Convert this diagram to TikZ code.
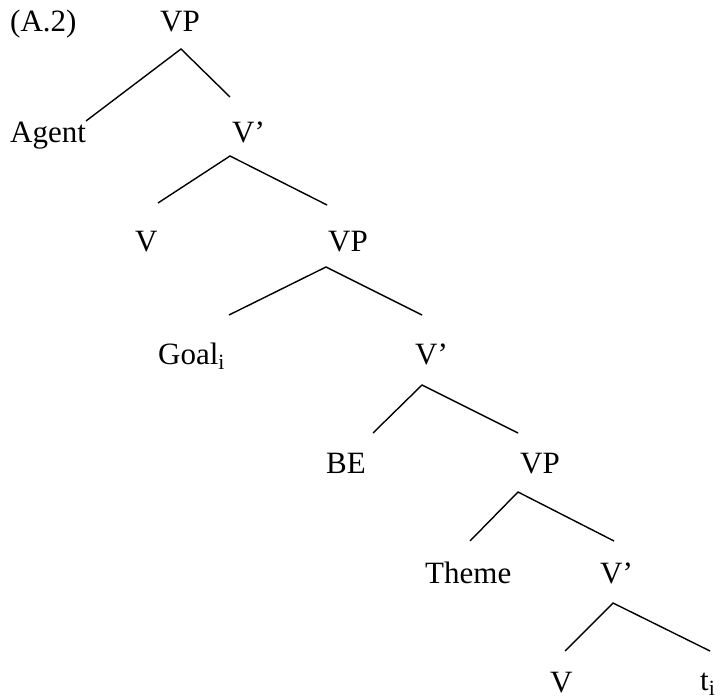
\documentclass[tikz,border=0pt]{standalone}
\usepackage{fontspec}
\setmainfont{Liberation Serif}
\begin{document}
\begin{tikzpicture}[x=1pt,y=-1pt,
  lbl/.style={anchor=base west,inner sep=0pt,font=\fontsize{31}{36}\selectfont},
  edge/.style={line width=1.4pt}]
\useasboundingbox (0,0) rectangle (725,700);
\node[lbl] (a2) at (10,32) {(A.2)};
\node[lbl] (vp1) at (160,32) {VP};
\node[lbl] (agent) at (10,143) {Agent};
\node[lbl] (v1) at (232,143) {V’};
\node[lbl] (va) at (135,252) {V};
\node[lbl] (vp2) at (328,252) {VP};
\node[lbl] (goal) at (158,364) {Goal\textsubscript{i}};
\node[lbl] (v2) at (415,364) {V’};
\node[lbl] (be) at (326,473) {BE};
\node[lbl] (vp3) at (520,473) {VP};
\node[lbl] (theme) at (425,583) {Theme};
\node[lbl] (v3) at (600,583) {V’};
\node[lbl] (vb) at (550,692) {V};
\node[lbl] (t) at (700,690) {t\textsubscript{i}};
% VP1
\draw[edge] ([shift={(76,-22)}]agent.base west) -- ([shift={(21,17)}]vp1.base west) -- ([shift={(-2,-46)}]v1.base west);
% V'1
\draw[edge] ([shift={(23,-49)}]va.base west) -- ([shift={(-2,13)}]v1.base west) -- ([shift={(-1,-47)}]vp2.base west);
% VP2
\draw[edge] ([shift={(71,-49)}]goal.base west) -- ([shift={(-2,15)}]vp2.base west) -- ([shift={(7,-49)}]v2.base west);
% V'2
\draw[edge] ([shift={(47,-40)}]be.base west) -- ([shift={(7,21)}]v2.base west) -- ([shift={(-2,-40)}]vp3.base west);
% VP3
\draw[edge] ([shift={(45,-42)}]theme.base west) -- ([shift={(-2,19)}]vp3.base west) -- ([shift={(14,-42)}]v3.base west);
% V'3
\draw[edge] ([shift={(15,-41)}]vb.base west) -- ([shift={(13,20)}]v3.base west) -- ([shift={(10,-39)}]t.base west);
\end{tikzpicture}
\end{document}
